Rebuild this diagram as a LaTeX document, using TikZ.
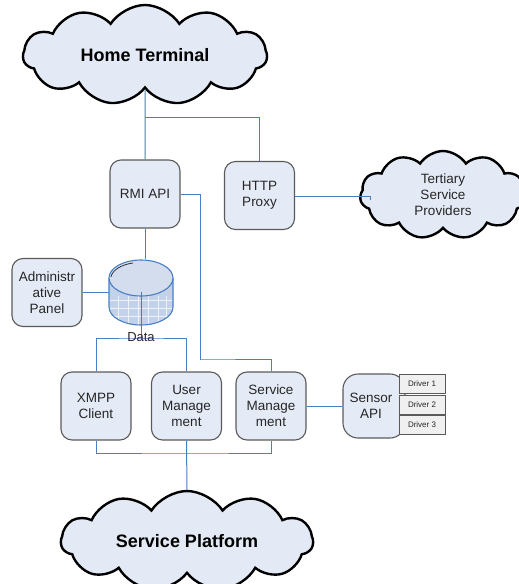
\documentclass[tikz,border=0pt]{standalone}
\usepackage{fontspec}
\setmainfont{Liberation Sans}
\usetikzlibrary{shapes.symbols}
\definecolor{boxfill}{HTML}{E5EBF6}
\definecolor{boxline}{HTML}{5A5A5A}
\definecolor{cloudfill}{HTML}{E4EAF5}
\definecolor{wire}{HTML}{4A7EC4}
\definecolor{dbtop}{HTML}{D3DDEE}
\definecolor{dbbody}{HTML}{C3D1EA}
\definecolor{txt}{HTML}{262626}
\tikzset{
  cloudnode/.style={cloud, cloud puffs=11, cloud puff arc=115, cloud ignores aspect,
    draw=black, line width=2.4pt, fill=cloudfill, inner sep=0pt},
  bigtext/.style={font=\bfseries\fontsize{18}{20}\selectfont, text=black},
  module/.style={draw=boxline, line width=1.1pt, fill=boxfill, rounded corners=11pt,
    minimum width=70pt, minimum height=68pt, align=center, text=txt,
    font=\fontsize{13.5}{16}\selectfont, inner sep=1pt},
  driverbox/.style={draw=boxline, line width=1pt, fill=white!94!black,
    minimum width=46pt, minimum height=19pt, inner sep=0pt,
    font=\fontsize{8}{9}\selectfont, text=txt},
  conn/.style={draw=wire, line width=1pt},
}
\begin{document}
\begin{tikzpicture}[x=1pt,y=-1pt]
\useasboundingbox (0,0) rectangle (519,584);

% clouds
\node[cloudnode, minimum width=244pt, minimum height=100pt, bigtext] (ht) at (145,55) {Home Terminal};
\node[cloudnode, minimum width=166pt, minimum height=88pt, align=center,
      font=\fontsize{13.5}{16}\selectfont, text=txt] (tp) at (443,195) {Tertiary\\Service\\Providers};
\node[cloudnode, minimum width=252pt, minimum height=100pt, bigtext] (sp) at (187,541) {Service Platform};

% application modules
\node[module] (rmi) at (145,194) {RMI API};
\node[module] (http) at (259.5,195.5) {HTTP\\Proxy};
\node[module] (admin) at (47,292.5) {Administr\\ative\\Panel};
\node[module] (xmpp) at (96,406) {XMPP\\Client};
\node[module] (um) at (186.5,406) {User\\Manage\\ment};
\node[module] (sm) at (271,406) {Service\\Manage\\ment};

% sensor api with its drivers
\node[module, rounded corners=15pt, minimum width=62pt, minimum height=64pt] (sensor) at (374,406) {\hspace*{-6pt}Sensor\\\hspace*{-6pt}API};
\node[driverbox] (d1) at (422,384) {Driver 1};
\node[driverbox] (d2) at (422,405) {Driver 2};
\node[driverbox] (d3) at (422,425) {Driver 3};

% data store (cylinder)
\node[minimum width=64pt, minimum height=66pt, inner sep=0pt] (db) at (141,292.5) {};
\begin{scope}
  \path[clip] (109,278) -- (109,307) arc[start angle=180, end angle=0, x radius=32, y radius=18]
        -- (173,278) -- cycle;
  \fill[dbbody] (105,255) rectangle (177,330);
  \foreach \xx in {118,128,138,148,158,166} \draw[white, line width=0.9pt, opacity=0.7] (\xx,296) -- (\xx,330);
  \foreach \yy in {300,308,316} \draw[white, line width=0.9pt, opacity=0.7] (105,\yy) -- (177,\yy);
\end{scope}
\draw[wire, line width=1.1pt] (109,278) -- (109,307) arc[start angle=180, end angle=0, x radius=32, y radius=18]
      -- (173,278);
\draw[wire, line width=1.1pt, fill=dbtop] (141,278) ellipse[x radius=32, y radius=18];
\draw[black!80, line width=0.8pt] (111,277) arc[start angle=185, end angle=255, x radius=30, y radius=16];

% connectors
\coordinate (top) at (145,117);
\draw[conn] (ht.south) -- (rmi.north);
\draw[conn] (top) -| (http.north);
\coordinate (tpend) at (370,196);
\draw[conn] (http.east |- tpend) -- (tpend) -- ++(0,4);
\draw[conn] (rmi.east) -- ++(20,0) |- (200,359) -| (sm.north);
\draw[conn] (rmi.south) -- (rmi.south |- db.north);
\draw[conn] (admin.east) -- (db.west);
\coordinate (dbc) at (141,292);
\coordinate (dj) at (141,338);
\draw[conn] (dbc) -- (dj);
\draw[conn] (xmpp.north) |- (dj) -| (um.north);
\node[font=\fontsize{13}{15}\selectfont, text=txt, inner sep=0pt] (datalabel) at (141,337) {Data};
\coordinate (bj) at (186.5,453);
\draw[conn] (xmpp.south) |- (bj) -| (sm.south);
\draw[conn] (um.south) -- (sp.north);
\draw[conn] (sm.east) -- (sensor.west);
\end{tikzpicture}
\end{document}
